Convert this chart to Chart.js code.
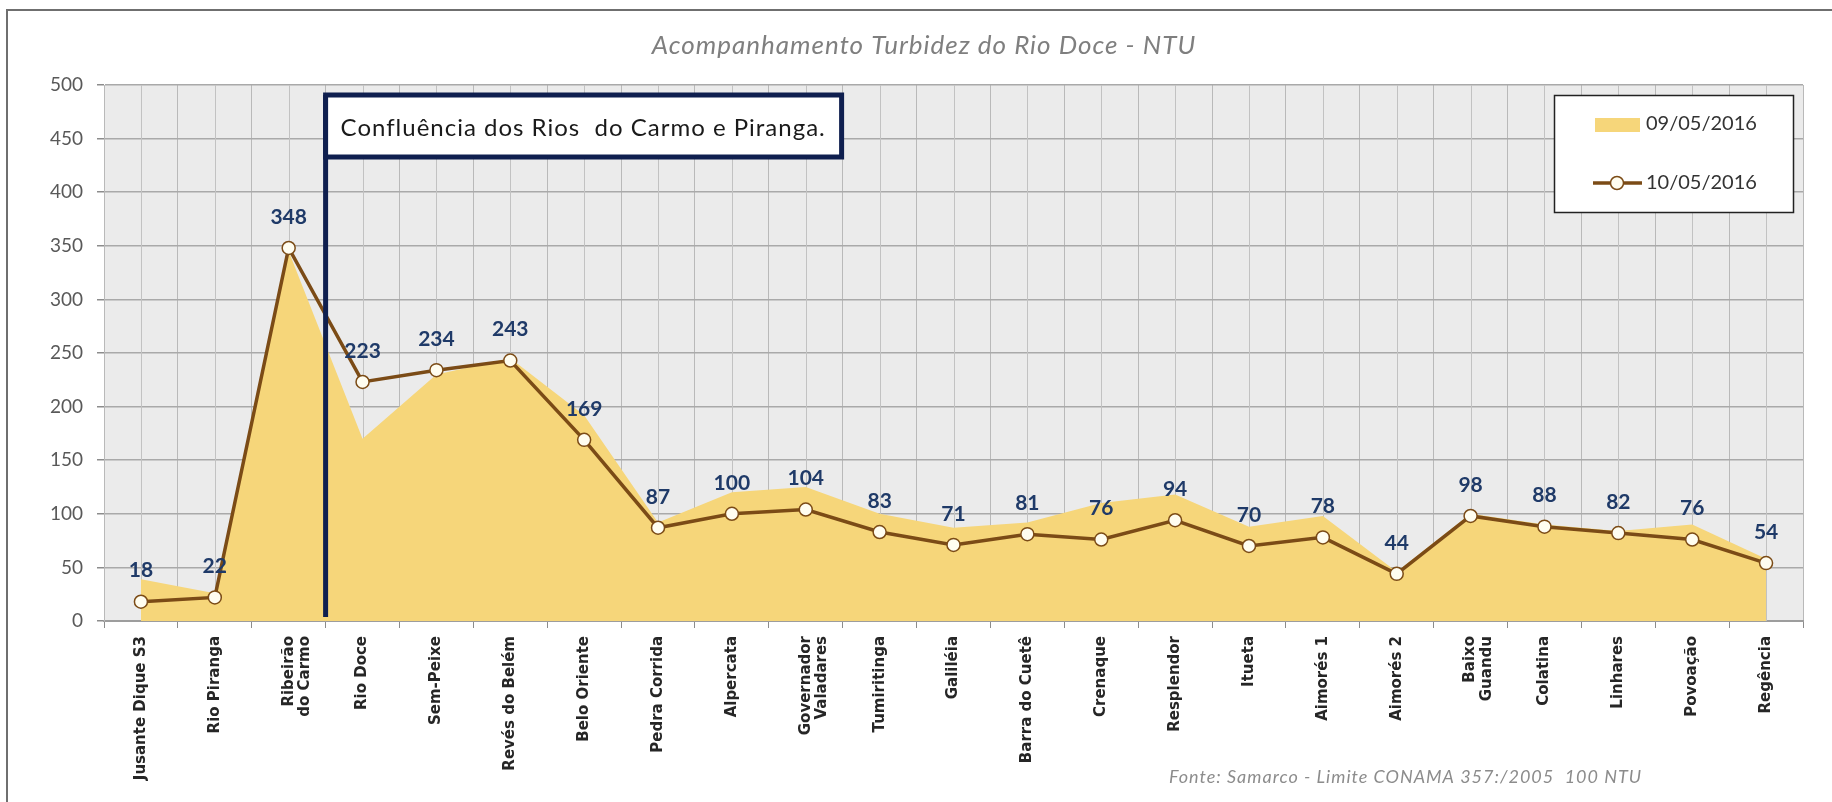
<!DOCTYPE html>
<html>
<head>
<meta charset="utf-8">
<title>Turbidez do Rio Doce</title>
<script src="https://cdn.jsdelivr.net/npm/chart.js@4.4.1/dist/chart.umd.min.js"></script>
<style>
	html, body { margin: 0; padding: 0; background: #fff; }
	#wrap { width: 1832px; height: 802px; }
</style>
</head>
<body>
<div id="wrap"><canvas id="turbidez" width="1832" height="802"></canvas></div>
<script>
// pontos de coleta ao longo do rio
var pontos = [
	'Jusante Dique S3', 'Rio Piranga', ['Ribeirão', 'do Carmo'], 'Rio Doce', 'Sem-Peixe',
	'Revés do Belém', 'Belo Oriente', 'Pedra Corrida', 'Alpercata', ['Governador', 'Valadares'],
	'Tumiritinga', 'Galiléia', 'Barra do Cuetê', 'Crenaque', 'Resplendor', 'Itueta',
	'Aimorés 1', 'Aimorés 2', ['Baixo', 'Guandu'], 'Colatina', 'Linhares', 'Povoação', 'Regência'
];

// turbidez (NTU) por dia
var ntu0905 = [39, 26, 345, 170, 230, 245, 192, 92, 120, 125, 100, 87, 92, 110, 118, 88, 98, 46, 100, 90, 84, 90, 58];
var ntu1005 = [18, 22, 348, 223, 234, 243, 169, 87, 100, 104, 83, 71, 81, 76, 94, 70, 78, 44, 98, 88, 82, 76, 54];

var eixoY = [0, 50, 100, 150, 200, 250, 300, 350, 400, 450, 500];

var titulo = 'Acompanhamento Turbidez do Rio Doce - NTU';
var fonte = 'Fonte: Samarco - Limite CONAMA 357:/2005  100 NTU';
var notaConfluencia = 'Confluência dos Rios  do Carmo e Piranga.';

var corArea = '#f6d67a';
var corLinha = '#7b4b16';
var azul = '#0f1f4f';

/* fundo cinza da area de plotagem */
var fundo = {
	id: 'fundo',
	beforeDraw: function (chart) {
		var ctx = chart.ctx, a = chart.chartArea;
		ctx.save();
		ctx.fillStyle = '#fff';
		ctx.fillRect(0, 0, chart.width, chart.height);
		ctx.fillStyle = '#ebebeb';
		ctx.fillRect(a.left, a.top, a.right - a.left, a.bottom - a.top);
		ctx.restore();
	}
};

/* linhas de grade no centro de cada categoria */
var gradeMenor = {
	id: 'gradeMenor',
	beforeDatasetsDraw: function (chart) {
		var ctx = chart.ctx, a = chart.chartArea, x = chart.scales.x;
		ctx.save();
		ctx.strokeStyle = '#c2c2c2';
		ctx.lineWidth = 1;
		for (var i = 0; i < pontos.length; i++) {
			var px = Math.round(x.getPixelForValue(i)) + 0.5;
			ctx.beginPath();
			ctx.moveTo(px, a.top);
			ctx.lineTo(px, a.bottom);
			ctx.stroke();
		}
		ctx.restore();
	}
};

/* marca da confluencia e valores sobre os pontos */
var anotacoes = {
	id: 'anotacoes',
	afterDatasetsDraw: function (chart) {
		var ctx = chart.ctx, a = chart.chartArea, x = chart.scales.x;
		var lx = (x.getPixelForValue(2) + x.getPixelForValue(3)) / 2;
		var topo = a.top + 10;

		ctx.save();
		ctx.strokeStyle = azul;
		ctx.lineWidth = 5;
		ctx.beginPath();
		ctx.moveTo(lx, topo);
		ctx.lineTo(lx, a.bottom - 4);
		ctx.stroke();

		ctx.fillStyle = '#fff';
		ctx.fillRect(lx, topo, 516, 62);
		ctx.strokeRect(lx, topo, 516, 62);

		ctx.fillStyle = '#1a1a1a';
		ctx.font = '24px Lato';
		ctx.letterSpacing = '1px';
		ctx.textAlign = 'left';
		ctx.textBaseline = 'middle';
		ctx.fillText(notaConfluencia, lx + 15, topo + 33);
		ctx.letterSpacing = '0px';

		// rotulos de dados da serie 10/05
		var meta = chart.getDatasetMeta(1);
		ctx.fillStyle = '#1f3a68';
		ctx.font = 'bold 21px Lato';
		ctx.textAlign = 'center';
		meta.data.forEach(function (pt, i) {
			ctx.fillText(String(ntu1005[i]), pt.x, pt.y - 31);
		});
		ctx.restore();
	}
};

/* titulo, legenda e nota de rodape */
var textos = {
	id: 'textos',
	afterDraw: function (chart) {
		var ctx = chart.ctx, ds = chart.data.datasets;
		ctx.save();

		// moldura externa
		ctx.strokeStyle = '#6f6f6f';
		ctx.lineWidth = 2;
		ctx.beginPath();
		ctx.moveTo(7, chart.height);
		ctx.lineTo(7, 10);
		ctx.lineTo(chart.width, 10);
		ctx.stroke();

		ctx.fillStyle = '#7f7f7f';
		ctx.font = 'italic 26px Lato';
		ctx.letterSpacing = '1px';
		ctx.textAlign = 'center';
		ctx.textBaseline = 'middle';
		ctx.fillText(titulo, 924, 46);
		ctx.letterSpacing = '0px';

		// legenda
		ctx.fillStyle = '#fff';
		ctx.fillRect(1554, 95, 239, 117);
		ctx.strokeStyle = '#222';
		ctx.lineWidth = 1.5;
		ctx.strokeRect(1554.5, 95.5, 239, 117);

		ctx.fillStyle = corArea;
		ctx.fillRect(1595, 118, 45, 14);

		ctx.strokeStyle = corLinha;
		ctx.lineWidth = 3.5;
		ctx.beginPath();
		ctx.moveTo(1593, 183);
		ctx.lineTo(1642, 183);
		ctx.stroke();
		ctx.beginPath();
		ctx.arc(1617, 183, 6.5, 0, Math.PI * 2);
		ctx.fillStyle = '#fffdf0';
		ctx.fill();
		ctx.lineWidth = 1.5;
		ctx.stroke();

		ctx.fillStyle = '#333';
		ctx.font = '20px Lato';
		ctx.textAlign = 'left';
		ctx.fillText(ds[0].label, 1646, 124);
		ctx.fillText(ds[1].label, 1646, 183);

		ctx.fillStyle = '#8c8c8c';
		ctx.font = 'italic 18px Lato';
		ctx.letterSpacing = '1px';
		ctx.fillText(fonte, 1169, 777);
		ctx.restore();
	}
};

new Chart(document.getElementById('turbidez'), {
	type: 'line',
	data: {
		labels: pontos,
		datasets: [{
			label: '09/05/2016',
			data: ntu0905,
			fill: 'origin',
			backgroundColor: corArea,
			borderWidth: 0,
			pointRadius: 0,
			order: 2
		}, {
			label: '10/05/2016',
			data: ntu1005,
			fill: false,
			borderColor: corLinha,
			borderWidth: 3.5,
			pointRadius: 6.5,
			pointBackgroundColor: '#fffdf0',
			pointBorderColor: corLinha,
			pointBorderWidth: 1.5,
			order: 1
		}]
	},
	options: {
		responsive: false,
		animation: false,
		devicePixelRatio: 1,
		layout: { padding: { top: 85, right: 29, bottom: 0, left: 0 } },
		plugins: {
			legend: { display: false },
			tooltip: { enabled: false }
		},
		scales: {
			x: {
				type: 'category',
				offset: true,
				grid: { offset: true, color: '#b9b9b9', lineWidth: 1, tickLength: 7, tickColor: '#8c8c8c' },
				border: { color: '#9d9d9d', width: 2 },
				ticks: {
					autoSkip: false,
					minRotation: 90,
					maxRotation: 90,
					padding: 8,
					color: '#262626',
					font: { family: 'DejaVu Sans', weight: 'bold', size: 15, lineHeight: 1.1 }
				},
				afterFit: function (s) { s.height = 181; }
			},
			y: {
				min: 0,
				max: 500,
				afterBuildTicks: function (s) {
					s.ticks = eixoY.map(function (v) { return { value: v }; });
				},
				grid: { color: '#a9a9a9', lineWidth: 1.5, tickLength: 7, tickColor: '#8c8c8c' },
				border: { color: '#b9b9b9', width: 1 },
				ticks: { padding: 14, color: '#595959', font: { family: 'Lato', size: 19 } },
				afterFit: function (s) { s.width = 104; }
			}
		}
	},
	plugins: [fundo, gradeMenor, anotacoes, textos]
});
</script>
</body>
</html>
